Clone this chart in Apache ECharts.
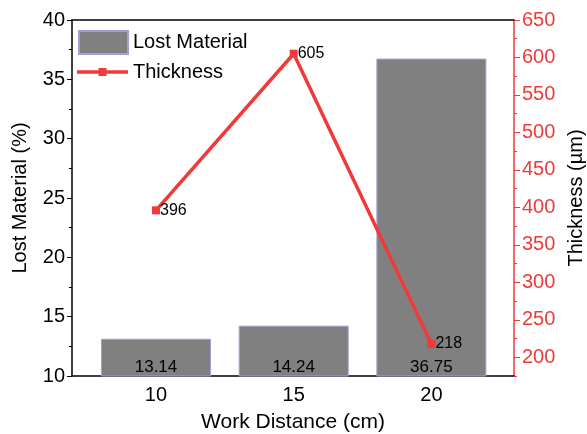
<!DOCTYPE html>
<html>
<head>
<meta charset="utf-8">
<script src="https://cdn.jsdelivr.net/npm/echarts@6/dist/echarts.min.js"></script>
<style>html,body{margin:0;padding:0;background:#fff}#c{width:587px;height:434px}</style>
</head>
<body>
<div id="c"></div>
<script>
const distances = [10, 15, 20];
const lostMaterial = [13.14, 14.24, 36.75];
const thickness = [396, 605, 218];
const leftTicks = [10, 15, 20, 25, 30, 35, 40];
const rightTicks = [200, 250, 300, 350, 400, 450, 500, 550, 600, 650];

const FONT = 'Liberation Sans, Arial, sans-serif';
const RED = '#f03a3a';
const chart = echarts.init(document.getElementById('c'));
chart.setOption({
  animation: false,
  textStyle: { fontFamily: FONT },
  grid: { left: 72, right: 73, top: 20, bottom: 58, containLabel: false, outerBoundsMode: 'none' },
  legend: [
    { data: [{ name: 'Lost Material', icon: 'rect' }], left: 78, top: 30, padding: 0,
      itemWidth: 49, itemHeight: 23, itemGap: 6,
      textStyle: { fontFamily: FONT, fontSize: 20, color: '#000' } },
    { data: [{ name: 'Thickness', icon: 'path://M0,2.25 L51,2.25 L51,5.75 L0,5.75 Z M21.5,0 L29.5,0 L29.5,8 L21.5,8 Z' }],
      left: 77, top: 62, padding: 0, itemWidth: 51, itemHeight: 8, itemGap: 5,
      textStyle: { fontFamily: FONT, fontSize: 20, color: '#000' } }
  ],
  xAxis: [
    { type: 'value', min: 6.95, max: 23, position: 'bottom',
      name: 'Work Distance (cm)', nameLocation: 'middle', nameGap: 36,
      nameTextStyle: { fontFamily: FONT, fontSize: 21, color: '#000' },
      axisLine: { lineStyle: { color: '#000', width: 1.5 } },
      axisTick: { show: false },
      splitLine: { show: false },
      axisLabel: { customValues: distances, fontFamily: FONT, fontSize: 20, color: '#000', margin: 9 } },
    { type: 'value', min: 6.95, max: 23, position: 'top',
      axisLine: { show: true, onZero: false, lineStyle: { color: '#000', width: 1.5 } },
      axisTick: { show: false }, axisLabel: { show: false }, splitLine: { show: false } }
  ],
  yAxis: [
    { type: 'value', min: 10, max: 40, interval: 5, position: 'left',
      name: 'Lost Material (%)', nameLocation: 'middle', nameGap: 42,
      nameTextStyle: { fontFamily: FONT, fontSize: 20, color: '#000' },
      axisLine: { show: true, lineStyle: { color: '#000', width: 1.5 } },
      axisTick: { show: true, length: 5, lineStyle: { color: '#000', width: 1 } },
      minorTick: { show: true, splitNumber: 2, length: 3, lineStyle: { color: '#000', width: 1 } },
      splitLine: { show: false },
      axisLabel: { fontFamily: FONT, fontSize: 20, color: '#000', margin: 7 } },
    { type: 'value', min: 175, max: 650, interval: 25, position: 'right',
      name: 'Thickness (µm)', nameLocation: 'middle', nameGap: 47,
      nameTextStyle: { fontFamily: FONT, fontSize: 20, color: '#000' },
      axisLine: { show: true, lineStyle: { color: RED, width: 1.5 } },
      axisTick: { show: true, length: 3, lineStyle: { color: RED, width: 1 } },
      splitLine: { show: false },
      axisLabel: { fontFamily: FONT, fontSize: 20, color: RED, margin: 8,
        formatter: v => (rightTicks.indexOf(v) >= 0 ? String(v) : '') } },
    { type: 'value', min: 175, max: 650, position: 'right',
      axisLine: { show: false },
      axisTick: { show: true, length: 6, customValues: rightTicks, lineStyle: { color: RED, width: 1 } },
      axisLabel: { show: false },
      splitLine: { show: false } }
  ],
  series: [
    { name: 'Lost Material', type: 'bar', xAxisIndex: 0, yAxisIndex: 0,
      barWidth: 110,
      data: distances.map((d, i) => [d, lostMaterial[i]]),
      itemStyle: { color: '#808080', borderColor: '#a0a0d8', borderWidth: 1 },
      label: { show: true, position: 'insideBottom', distance: 1, color: '#000', fontSize: 17, fontFamily: FONT,
        formatter: p => p.value[1].toFixed(2) } },
    { name: 'Thickness', type: 'line', xAxisIndex: 0, yAxisIndex: 1,
      data: distances.map((d, i) => [d, thickness[i]]),
      symbol: 'rect', symbolSize: 8,
      lineStyle: { color: RED, width: 3.5 },
      itemStyle: { color: RED },
      label: { show: true, position: 'right', distance: 0, color: '#000', fontSize: 16, fontFamily: FONT } }
  ]
});
</script>
</body>
</html>
